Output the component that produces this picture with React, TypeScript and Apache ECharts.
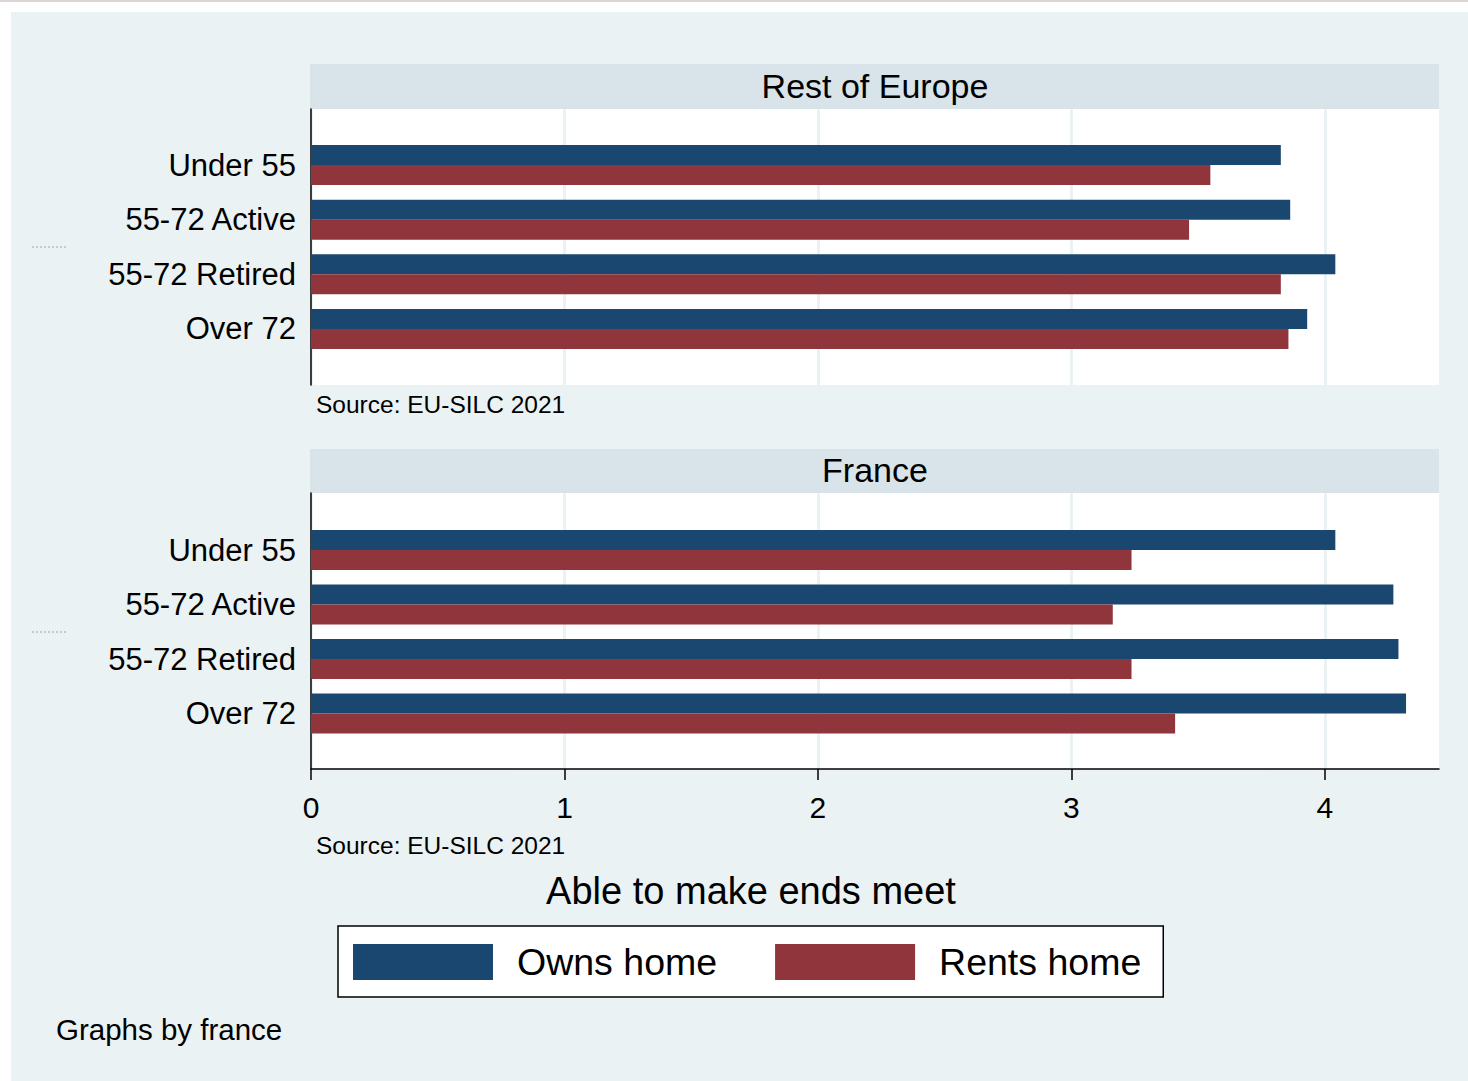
import React, { useEffect, useRef } from "react";
import * as echarts from "echarts";

const categories = ["Under 55", "55-72 Active", "55-72 Retired", "Over 72"];
const europeOwns = [3.826, 3.863, 4.041, 3.93];
const europeRents = [3.548, 3.464, 3.826, 3.856];
const franceOwns = [4.041, 4.27, 4.29, 4.32];
const franceRents = [3.237, 3.163, 3.237, 3.409];
const xTicks = [0, 1, 2, 3, 4];
const panelTitles = ["Rest of Europe", "France"];
const seriesNames = ["Owns home", "Rents home"];
const sourceNote = "Source: EU-SILC 2021";
const xTitle = "Able to make ends meet";
const byNote = "Graphs by france";

const FONT = "'Liberation Sans', Arial, sans-serif";
const NAVY = "#1a476f";
const MAROON = "#90353b";
const BG = "#eaf2f3";
const STRIP = "#d8e4ea";
const XMAX = 4.45;

export default function App() {
  const ref = useRef<HTMLDivElement>(null);
  useEffect(() => {
    if (!ref.current) return;
    const chart = echarts.init(ref.current, null, { renderer: "svg" });
    const bgX = (gridIndex: number, showAxis: boolean) => ({
      type: "value",
      gridIndex,
      min: xTicks[0],
      max: XMAX,
      interval: 1,
      axisLine: { show: showAxis, lineStyle: { color: "#000", width: 1.5 } },
      axisTick: {
        show: showAxis,
        length: 11,
        customValues: xTicks,
        lineStyle: { color: "#000", width: 1.5 },
      },
      axisLabel: {
        show: showAxis,
        fontSize: 30,
        color: "#000",
        fontFamily: FONT,
        margin: 23,
        customValues: xTicks,
        formatter: (v: number) => (xTicks.includes(v) ? String(v) : ""),
      },
      splitLine: { show: true, lineStyle: { color: BG, width: 3 } },
    });
    const barX = (gridIndex: number) => ({
      type: "value",
      gridIndex,
      min: 0,
      max: XMAX,
      show: false,
    });
    const bgY = (gridIndex: number) => ({
      type: "value",
      gridIndex,
      min: 0,
      max: 1,
      axisLine: { show: true, lineStyle: { color: "#000", width: 1.5 } },
      axisTick: { show: false },
      axisLabel: { show: false },
      splitLine: { show: false },
    });
    const catY = (gridIndex: number) => ({
      type: "category",
      gridIndex,
      data: categories,
      inverse: true,
      axisLine: { show: false },
      axisTick: { show: false },
      axisLabel: { fontSize: 31, color: "#000", fontFamily: FONT, margin: 15 },
    });
    const bar = (name: string, data: number[], idx: number, color: string) => ({
      name,
      type: "bar",
      xAxisIndex: idx,
      yAxisIndex: idx,
      data,
      barWidth: 20,
      barGap: "0%",
      itemStyle: { color },
    });
    chart.setOption({
      animation: false,
      backgroundColor: "#fff",
      textStyle: { fontFamily: FONT },
      grid: [
        { left: 311, right: 29, top: 109, height: 276, show: true, backgroundColor: "#fff", borderWidth: 0 },
        { left: 311, right: 29, top: 137.7, height: 218.6 },
        { left: 311, right: 29, top: 493, height: 276, show: true, backgroundColor: "#fff", borderWidth: 0 },
        { left: 311, right: 29, top: 522.75, height: 218 },
      ],
      xAxis: [bgX(0, false), barX(1), bgX(2, true), barX(3)],
      yAxis: [bgY(0), catY(1), bgY(2), catY(3)],
      legend: {
        left: 338,
        top: 926,
        orient: "horizontal",
        data: seriesNames,
        icon: "rect",
        itemWidth: 140,
        itemHeight: 36,
        itemGap: 58,
        padding: [17, 22, 16, 15],
        borderColor: "#000",
        borderWidth: 1.5,
        backgroundColor: "#fff",
        selectedMode: false,
        textStyle: { fontSize: 37.5, color: "#000", fontFamily: FONT, padding: [0, 0, 0, 19] },
      },
      series: [
        bar(seriesNames[0], europeOwns, 1, NAVY),
        bar(seriesNames[1], europeRents, 1, MAROON),
        bar(seriesNames[0], franceOwns, 3, NAVY),
        bar(seriesNames[1], franceRents, 3, MAROON),
      ],
      graphic: [
        { type: "rect", z: -100, shape: { x: 0, y: 0, width: 1468, height: 2 }, style: { fill: "#ddd5d5" } },
        { type: "rect", z: -100, shape: { x: 11, y: 12, width: 1457, height: 1069 }, style: { fill: BG } },
        { type: "rect", z: -50, shape: { x: 310, y: 64, width: 1129, height: 45 }, style: { fill: STRIP } },
        { type: "rect", z: -50, shape: { x: 310, y: 449, width: 1129, height: 44 }, style: { fill: STRIP } },
        { type: "text", x: 875, y: 86, style: { text: panelTitles[0], font: `34px ${FONT}`, fill: "#000", textAlign: "center", textVerticalAlign: "middle" } },
        { type: "text", x: 875, y: 470, style: { text: panelTitles[1], font: `34px ${FONT}`, fill: "#000", textAlign: "center", textVerticalAlign: "middle" } },
        { type: "text", x: 316, y: 404, style: { text: sourceNote, font: `24.5px ${FONT}`, fill: "#000", textAlign: "left", textVerticalAlign: "middle" } },
        { type: "text", x: 316, y: 845, style: { text: sourceNote, font: `24.5px ${FONT}`, fill: "#000", textAlign: "left", textVerticalAlign: "middle" } },
        { type: "text", x: 751, y: 891, style: { text: xTitle, font: `38px ${FONT}`, fill: "#000", textAlign: "center", textVerticalAlign: "middle" } },
        { type: "text", x: 56, y: 1029, style: { text: byNote, font: `29.5px ${FONT}`, fill: "#000", textAlign: "left", textVerticalAlign: "middle" } },
        { type: "line", shape: { x1: 32, y1: 247, x2: 67, y2: 247 }, style: { stroke: "#9aa2b4", lineWidth: 1, lineDash: [2, 2] } },
        { type: "line", shape: { x1: 32, y1: 632, x2: 67, y2: 632 }, style: { stroke: "#9aa2b4", lineWidth: 1, lineDash: [2, 2] } },
      ],
    });
    return () => chart.dispose();
  }, []);
  return (
    <div
      ref={ref}
      style={{ position: "absolute", left: 0, top: 0, width: 1468, height: 1081 }}
    />
  );
}
